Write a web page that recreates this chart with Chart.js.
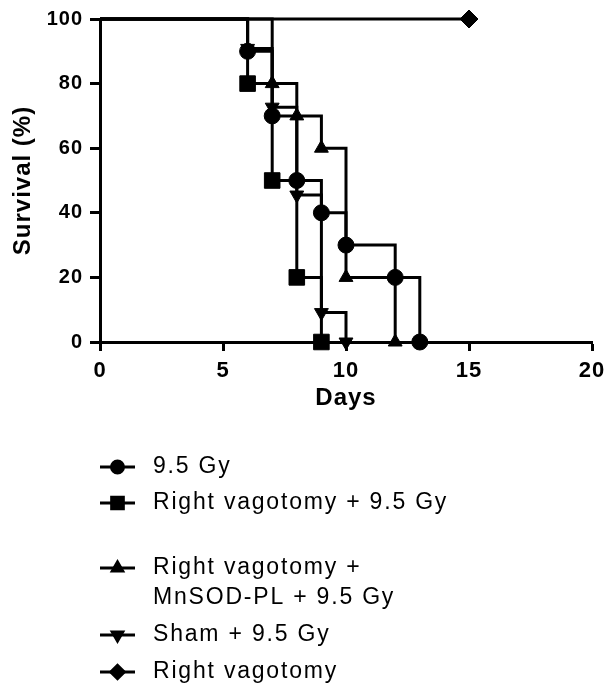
<!DOCTYPE html>
<html>
<head>
<meta charset="utf-8">
<script src="https://cdn.jsdelivr.net/npm/chart.js@4.4.1/dist/chart.umd.min.js"></script>
<style>
  html, body { margin: 0; padding: 0; background: #fff; }
  #wrap { width: 612px; height: 700px; }
</style>
</head>
<body>
<div id="wrap"><canvas id="chart" width="612" height="700"></canvas></div>
<script>
// Kaplan-Meier steps: day of event and % surviving after it
const days95 = [0, 6, 7, 8, 9, 10, 12, 13];
const surv95 = [100, 90, 70, 50, 40, 30, 20, 0];
const daysRV95 = [0, 6, 7, 8, 9];
const survRV95 = [100, 80, 50, 20, 0];
const daysRVMn = [0, 7, 8, 9, 10, 12];
const survRVMn = [100, 80, 70, 60, 20, 0];
const daysSham = [0, 6, 7, 8, 9, 10];
const survSham = [100, 90.9, 72.7, 45.5, 9.1, 0];
const daysRV = [0, 15];
const survRV = [100, 100];

const seriesNames = ['9.5 Gy', 'Right vagotomy + 9.5 Gy', 'Right vagotomy + MnSOD-PL + 9.5 Gy', 'Sham + 9.5 Gy', 'Right vagotomy'];
const legendLines = [['9.5 Gy'], ['Right vagotomy + 9.5 Gy'], ['Right vagotomy +', 'MnSOD-PL + 9.5 Gy'], ['Sham + 9.5 Gy'], ['Right vagotomy']];

const xMin = 0, xMax = 20, xStep = 5;
const yMin = 0, yMax = 100, yStep = 20;

const series = [
    { d: days95, s: surv95, style: 'circle', r: 8, rot: 0 },
    { d: daysRV95, s: survRV95, style: 'rect', r: 11, rot: 0 },
    { d: daysRVMn, s: survRVMn, style: 'triangle', r: 8, rot: 0 },
    { d: daysSham, s: survSham, style: 'triangle', r: 8, rot: 180 },
    { d: daysRV, s: survRV, style: 'rectRot', r: 9, rot: 0 }
];

const boldFont = size => ({ family: '"Liberation Sans", Arial, sans-serif', weight: 'bold', size });

const datasets = series.map((ser, i) => ({
    label: seriesNames[i],
    data: ser.d.map((x, k) => ({ x, y: ser.s[k] })),
    stepped: 'before',
    borderColor: '#000',
    backgroundColor: '#000',
    borderWidth: 3,
    pointStyle: ser.style,
    pointRotation: ser.rot,
    pointRadius: c => c.dataIndex === 0 ? 0 : ser.r,
    pointBorderWidth: 1,
    pointBackgroundColor: '#000',
    pointBorderColor: '#000',
    clip: false
}));

// the original lettering is a bit spread out
const spacing = {
    id: 'spacing',
    beforeDraw(chart) { chart.ctx.letterSpacing = '1px'; },
    afterDraw(chart) { chart.ctx.letterSpacing = '0px'; }
};

// legend drawn under the plot: line + marker, then label text
const kmLegend = {
    id: 'kmLegend',
    afterDraw(chart, args, opts) {
        const ctx = chart.ctx;
        ctx.save();
        chart.data.datasets.forEach((ds, i) => {
            const y = opts.rows[i];
            ctx.strokeStyle = '#000';
            ctx.fillStyle = '#000';
            ctx.lineWidth = 3;
            ctx.beginPath();
            ctx.moveTo(opts.x0, y);
            ctx.lineTo(opts.x1, y);
            ctx.stroke();
            Chart.helpers.drawPoint(ctx, {
                pointStyle: ds.pointStyle,
                rotation: ds.pointRotation,
                radius: series[i].r * 0.75,
                borderWidth: 1
            }, (opts.x0 + opts.x1) / 2, y);
            ctx.font = opts.font;
            ctx.letterSpacing = opts.spacing;
            ctx.textAlign = 'left';
            ctx.textBaseline = 'middle';
            legendLines[i].forEach((t, k) => ctx.fillText(t, opts.textX, y + k * opts.lineH));
        });
        ctx.restore();
    }
};

new Chart(document.getElementById('chart').getContext('2d'), {
    type: 'line',
    data: { datasets },
    plugins: [spacing, kmLegend],
    options: {
        responsive: false,
        animation: false,
        layout: { padding: { top: 18, right: 20, bottom: 285, left: 0 } },
        plugins: {
            legend: { display: false },
            tooltip: { enabled: false },
            kmLegend: {
                rows: [467, 503, 568, 635, 672],
                x0: 100, x1: 135, textX: 153, lineH: 30,
                font: '23px "Liberation Sans", Arial, sans-serif',
                spacing: '1.8px'
            }
        },
        scales: {
            x: {
                type: 'linear',
                min: xMin, max: xMax,
                afterFit: s => { s.height = 73; },
                ticks: { stepSize: xStep, color: '#000', font: boldFont(22), padding: 7 },
                grid: { drawOnChartArea: false, drawTicks: true, tickLength: 9, tickWidth: 3, tickColor: '#000' },
                border: { color: '#000', width: 3 },
                title: { display: true, text: 'Days', color: '#000', font: boldFont(24), padding: { top: 0, bottom: 2 } }
            },
            y: {
                min: yMin, max: yMax,
                afterFit: s => { s.width = 100; },
                ticks: { stepSize: yStep, color: '#000', font: boldFont(20), padding: 7 },
                grid: { drawOnChartArea: false, drawTicks: true, tickLength: 10, tickWidth: 3, tickColor: '#000' },
                border: { color: '#000', width: 3 },
                title: { display: true, text: 'Survival (%)', color: '#000', font: boldFont(24), padding: { top: 9, bottom: 0 } }
            }
        }
    }
});
</script>
</body>
</html>
